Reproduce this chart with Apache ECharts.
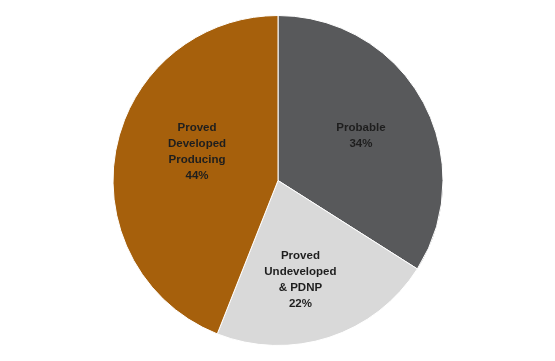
<!DOCTYPE html>
<html>
<head>
<meta charset="utf-8">
<script src="https://cdn.jsdelivr.net/npm/echarts@6/dist/echarts.min.js"></script>
<style>html,body{margin:0;padding:0;background:#fff;}#c{width:555px;height:361px;}</style>
</head>
<body>
<div id="c"></div>
<script>
var categories = ['Probable', 'Proved\nUndeveloped\n& PDNP', 'Proved\nDeveloped\nProducing'];
var values = [34, 22, 44];
var colors = ['#58595B', '#D9D9D9', '#A6600C'];
var labelOffsets = [[8, -3], [-4, 18], [3, -13]];

var chart = echarts.init(document.getElementById('c'), null, {renderer: 'canvas'});
chart.setOption({
  animation: false,
  series: [{
    type: 'pie',
    center: [278, 180.5],
    radius: [0, 165],
    startAngle: 90,
    clockwise: true,
    label: {
      show: true,
      position: 'inside',
      formatter: function (p) { return p.name + '\n' + p.value + '%'; },
      fontFamily: 'Liberation Sans',
      fontWeight: 'bold',
      fontSize: 11.5,
      lineHeight: 16,
      color: '#1E1E1E',
      align: 'center'
    },
    labelLine: {show: false},
    itemStyle: {borderColor: '#ffffff', borderWidth: 1},
    emphasis: {disabled: true},
    data: categories.map(function (c, i) {
      return {name: c, value: values[i], itemStyle: {color: colors[i]}, label: {offset: labelOffsets[i]}};
    })
  }]
});
</script>
</body>
</html>
